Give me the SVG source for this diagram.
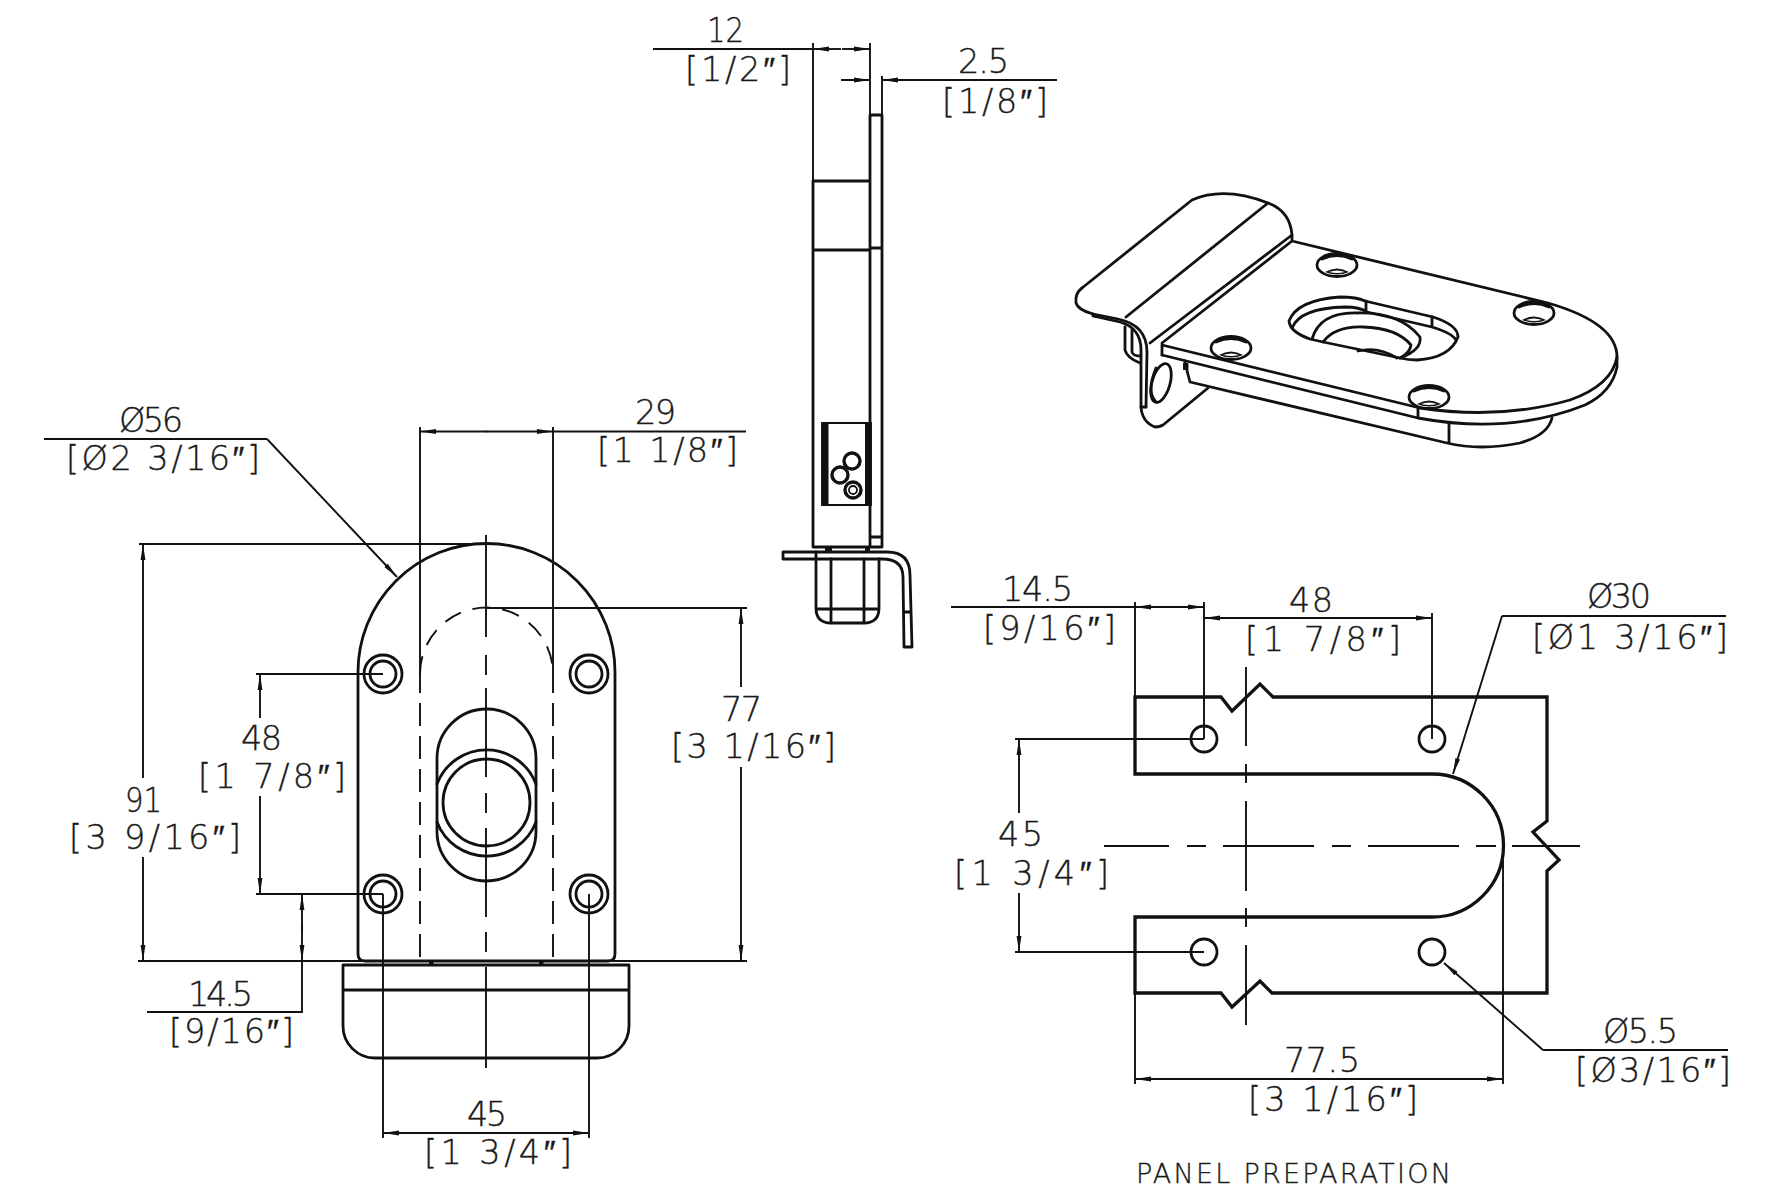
<svg xmlns="http://www.w3.org/2000/svg" width="1767" height="1200" viewBox="0 0 1767 1200">
<style>
text{font-family:"DejaVu Sans","Liberation Sans",sans-serif;font-weight:200;font-size:33.500px;fill:#1a1a1a;stroke:#1a1a1a;stroke-width:.35}
.o{fill:none;stroke:#111;stroke-width:2.800;stroke-linejoin:round;stroke-linecap:round}
.h{fill:none;stroke:#111;stroke-width:3.300;stroke-linejoin:miter}
.t{fill:none;stroke:#111;stroke-width:1.900}
.d{stroke-dasharray:23 10}
.a{marker-end:url(#arrow)}
.s{fill:#111}
</style>
<defs>
<marker id="arrow" markerUnits="userSpaceOnUse" viewBox="0 0 16 6" refX="16" refY="3" markerWidth="16" markerHeight="6" orient="auto"><path d="M0 0.6L16 3L0 5.4Z" fill="#111"/></marker>
<g id="mount"><ellipse cx="0" cy="0" rx="20" ry="11.500" class="o"/><path d="M-15 -6Q0 -13 15 -6" class="o"/><path d="M-12 7Q0 0 12 7Q0 12 -12 7Z" fill="#111" stroke="none"/><path d="M-8 7Q0 4 8 7Q0 9 -8 7Z" fill="#fff"/></g>
</defs>
<rect width="1767" height="1200" fill="#fff"/>

<g id="front-view">
<path class="o" d="M358 954V672A128.500 128.500 0 0 1 615 672V954Q615 961 608 961H365Q358 961 358 954Z"/>
<g id="front-holes" class="o">
<circle cx="383" cy="674" r="19"/><circle cx="383" cy="674" r="13"/>
<circle cx="589" cy="674" r="19"/><circle cx="589" cy="674" r="13"/>
<circle cx="383" cy="894" r="19"/><circle cx="383" cy="894" r="13"/>
<circle cx="589" cy="894" r="19"/><circle cx="589" cy="894" r="13"/>
</g>
<path class="o" d="M437 758.500A49.500 49.500 0 0 1 536 758.500V831.500A49.500 49.500 0 0 1 437 831.500Z"/>
<path class="o" d="M437 784A53 53 0 0 1 536 784M437 822A53 53 0 0 0 536 822"/>
<circle class="o" cx="486.500" cy="802.500" r="43.500"/>
<path class="t" d="M420 674A66.500 66.500 0 0 1 553 674" stroke-dasharray="18 12"/>
<path class="t d" d="M420 703V961M553 703V961"/>
<path class="o" d="M343 965H629V1026A32 32 0 0 1 597 1058H375A32 32 0 0 1 343 1026ZM343 990H629"/>
<rect class="s" x="429" y="961" width="4.500" height="4"/><rect class="s" x="539" y="961" width="4.500" height="4"/>
<path class="t" d="M486 535V637M486 655V675M486 688V777M486 793V813M486 828V917M486 932V952M486 967V1068"/>
</g>

<g id="side-view">
<path class="o" d="M813 181V547H870M870 115H882V547H870V115M813 181H870M813 250H870M870 248H882M870 537H882"/>
<path class="t" d="M822 423H871V505H822Z"/>
<rect class="s" x="822" y="423" width="6.500" height="82"/><rect class="s" x="865" y="423" width="6" height="82"/>
<g fill="none" stroke="#111" stroke-width="3.400"><circle cx="852" cy="461" r="8"/><circle cx="840" cy="475" r="8"/><circle cx="853" cy="490" r="8"/><circle cx="853" cy="490" r="4" stroke-width="1.800"/></g>
<rect class="s" x="825" y="547" width="7" height="5"/><rect class="s" x="865" y="547" width="5" height="5"/>
<path class="o" d="M783 552H887Q910 552 910 575L912 647H904L903 577Q903 559 882 559H783ZM904 612H911"/>
<path class="o" d="M816 552V608Q816 623 831 623H864Q879 623 879 608V559M816 609H879M831 559V623M864 559V623"/>
</g>

<g id="iso-view">
<path class="o" d="M1082 288L1192 200Q1224 186 1268 203Q1290 211 1292 235L1150 343M1268 203L1126 317"/>
<path class="o" d="M1082 288Q1075 293 1076 303Q1078 310 1093 314L1118 319Q1147 325 1147 352L1146 407"/>
<path class="o" d="M1093 314V316L1120 322Q1141 328 1141 350V407Q1142 422 1155 427Q1160 427 1163 425L1208 388"/>
<path class="o" d="M1141 407H1146"/>
<path class="o" d="M1125 327V350Q1127 358 1140 363M1132 330V352Q1133 356 1140 356"/>
<ellipse class="o" cx="1161" cy="383" rx="9" ry="20" transform="rotate(16 1161 383)"/>
<path class="o" d="M1156 402Q1146 392 1156 368"/>
<path class="o" d="M1162 343L1292 241V235M1292 241L1548 303Q1617 323 1617 357Q1612 385 1570 400Q1500 420 1420 408L1162 345V355"/>
<path class="o" d="M1162 355L1418 418Q1510 435 1585 405Q1612 392 1617 367V357M1418 408V418"/>
<path class="o" d="M1185 361V363L1190 382L1447 443Q1480 451 1520 443Q1548 435 1552 418M1449 423V443"/>
<rect class="t" x="1184" y="364" width="3.500" height="5"/>
<use href="#mount" x="1337" y="265"/><use href="#mount" x="1231" y="348"/><use href="#mount" x="1534" y="313"/><use href="#mount" x="1429" y="397"/>
<path class="o" d="M1340 297Q1357 297 1365 301L1433 317Q1458 325 1458 337Q1450 358 1417 360Q1408 360 1400 358L1323 342L1310 339Q1290 332 1289 321Q1297 300 1340 297Z"/>
<path class="o" d="M1292 328Q1300 308 1345 307Q1360 307 1367 312L1432 327Q1452 333 1456 340M1366 301V312M1432 317V327"/>
<path class="o" d="M1312 339Q1320 312 1357 313Q1400 312 1420 337Q1422 350 1400 358"/>
<path class="o" d="M1323 342Q1335 326 1363 327Q1397 328 1411 345Q1410 353 1400 358"/>
<path class="o" d="M1358 351Q1378 346 1397 358"/>
</g>

<g id="panel-preparation">
<path class="h" d="M1135 697H1221L1232 711L1260 684L1273 697H1547V821L1533 832L1559 860L1547 871V993H1272L1260 981L1232 1007L1221 993H1135V917H1432A71.500 71.500 0 0 0 1432 774H1135Z"/>
<g class="o"><circle cx="1204" cy="739" r="13"/><circle cx="1432" cy="739" r="13"/><circle cx="1204" cy="952" r="13"/><circle cx="1432" cy="952" r="13"/></g>
<path class="t" d="M1246 667V746M1246 764V783M1246 801V891M1246 908V927M1246 945V1025"/>
<path class="t" d="M1104 846H1169M1187 846H1206M1223 846H1314M1332 846H1351M1368 846H1459M1476 846H1496M1512 846H1580"/>
</g>

<g id="connectors">
<path class="t" d="M813 43V181M870 43V115M882 76V115"/>
<path class="t" d="M653 49H813M841 80H870" />
<path class="t a" d="M841 49H813"/><path class="t a" d="M842 49H870"/>
<path class="t a" d="M850 80H870"/><path class="t a" d="M1057 80H882"/>

<path class="t" d="M420 427V693M553 427V693M553 431.500H746"/>
<path class="t a" d="M487 431.500H420"/><path class="t a" d="M486 431.500H553"/>

<path class="t" d="M44 439H267"/><path class="t a" d="M267 439L397 577"/>
<path class="t" d="M139 544H486M486 608H747M138 961H747"/>
<path class="t a" d="M143 778V544"/><path class="t a" d="M143 857V961"/>
<path class="t a" d="M741 687V608"/><path class="t a" d="M741 767V961"/>
<path class="t" d="M256 674H383M256 894H383"/>
<path class="t a" d="M260 718V674"/><path class="t a" d="M260 796V894"/>
<path class="t a" d="M302 930V894"/><path class="t a" d="M302 925V961"/>
<path class="t" d="M302 961V1012H147"/>
<path class="t" d="M383 894V1138M589 894V1138"/>
<path class="t a" d="M487 1133H383"/><path class="t a" d="M486 1133H589"/>

<path class="t" d="M951 607H1135M1135 602V697M1204 602V739M1135 993V1084M1432 613V739M1503 860V1084"/>
<path class="t a" d="M1170 607H1135"/><path class="t a" d="M1170 607H1204"/>
<path class="t a" d="M1319 618H1204"/><path class="t a" d="M1318 618H1432"/>
<path class="t" d="M1726 616H1502"/><path class="t a" d="M1502 616L1453 774"/>
<path class="t" d="M1015 739H1204M1015 952H1204"/>
<path class="t a" d="M1019 813V739"/><path class="t a" d="M1019 893V952"/>
<path class="t a" d="M1320 1079H1135"/><path class="t a" d="M1319 1079H1503"/>
<path class="t" d="M1728 1050H1543"/><path class="t a" d="M1543 1050L1444 963"/>
</g>

<g id="labels">
<text x="707" y="42" textLength="37" lengthAdjust="spacingAndGlyphs">12</text>
<text x="685" y="81" textLength="106">[1/2″]</text>
<text x="958" y="73" textLength="51">2.5</text>
<text x="942" y="113" textLength="106">[1/8″]</text>
<text x="635" y="424" textLength="41">29</text>
<text x="597" y="462" textLength="141">[1 1/8″]</text>
<text x="119" y="432" textLength="64">Ø56</text>
<text x="66" y="470" textLength="194">[Ø2 3/16″]</text>
<text x="125" y="812" textLength="37" lengthAdjust="spacingAndGlyphs">91</text>
<text x="69" y="849" textLength="172">[3 9/16″]</text>
<text x="241" y="750" textLength="41">48</text>
<text x="198" y="788" textLength="148">[1 7/8″]</text>
<text x="188" y="1006" textLength="65">14.5</text>
<text x="169" y="1043" textLength="125">[9/16″]</text>
<text x="721" y="721" textLength="41">77</text>
<text x="671" y="758" textLength="165">[3 1/16″]</text>
<text x="467" y="1126" textLength="40">45</text>
<text x="424" y="1164" textLength="148">[1 3/4″]</text>
<text x="1002" y="601" textLength="71">14.5</text>
<text x="983" y="640" textLength="133">[9/16″]</text>
<text x="1289" y="612" textLength="44">48</text>
<text x="1245" y="651" textLength="156">[1 7/8″]</text>
<text x="1587" y="608" textLength="64">Ø30</text>
<text x="1532" y="649" textLength="196">[Ø1 3/16″]</text>
<text x="998" y="846" textLength="45">45</text>
<text x="954" y="885" textLength="155">[1 3/4″]</text>
<text x="1284" y="1072" textLength="76">77.5</text>
<text x="1248" y="1111" textLength="170">[3 1/16″]</text>
<text x="1603" y="1043" textLength="75">Ø5.5</text>
<text x="1575" y="1082" textLength="156">[Ø3/16″]</text>
<text x="1136" y="1183" textLength="315" style="font-size:27px">PANEL PREPARATION</text>
</g>
</svg>
